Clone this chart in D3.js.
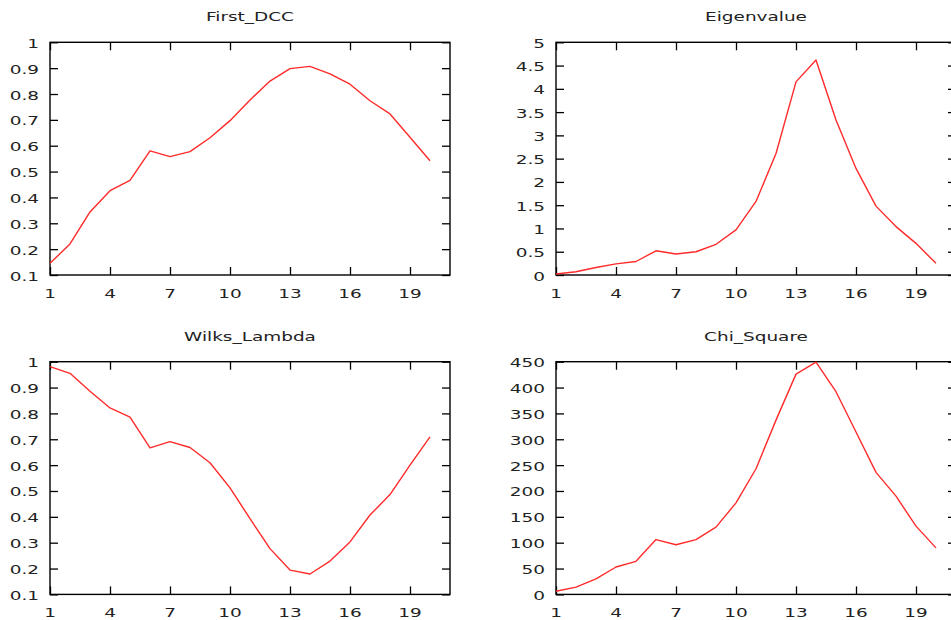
<!DOCTYPE html>
<html>
<head>
<meta charset="utf-8">
<script src="https://cdn.jsdelivr.net/npm/d3@7"></script>
<style>
  html, body { margin: 0; padding: 0; background: #fff; }
  svg { display: block; }
  text { font-family: "DejaVu Sans", Verdana, sans-serif; font-size: 13px; fill: #222; }
</style>
</head>
<body>
<svg id="chart" width="951" height="620"></svg>
<script>
// ---- data ----
const xValues = [1, 2, 3, 4, 5, 6, 7, 8, 9, 10, 11, 12, 13, 14, 15, 16, 17, 18, 19, 20];
const xTicks = [1, 4, 7, 10, 13, 16, 19];

const firstDCC = [0.145, 0.22, 0.344, 0.426, 0.466, 0.58, 0.558, 0.577, 0.631, 0.697,
                  0.777, 0.85, 0.898, 0.907, 0.878, 0.838, 0.774, 0.723, 0.633, 0.542];
const eigenvalue = [0.02, 0.07, 0.16, 0.24, 0.29, 0.52, 0.45, 0.50, 0.66, 0.97,
                    1.58, 2.61, 4.15, 4.62, 3.33, 2.29, 1.48, 1.04, 0.68, 0.25];
const wilksLambda = [0.981, 0.955, 0.886, 0.821, 0.786, 0.667, 0.691, 0.668, 0.609, 0.512,
                     0.393, 0.277, 0.194, 0.179, 0.229, 0.303, 0.407, 0.486, 0.60, 0.709];
const chiSquare = [6, 14, 30, 53, 64, 106, 96, 106, 130, 177,
                   243, 337, 426, 449, 392, 314, 236, 190, 132, 90];

const yTicksDCC = [0.1, 0.2, 0.3, 0.4, 0.5, 0.6, 0.7, 0.8, 0.9, 1];
const yTicksEigen = [0, 0.5, 1, 1.5, 2, 2.5, 3, 3.5, 4, 4.5, 5];
const yTicksWilks = [0.1, 0.2, 0.3, 0.4, 0.5, 0.6, 0.7, 0.8, 0.9, 1];
const yTicksChi = [0, 50, 100, 150, 200, 250, 300, 350, 400, 450];

const titles = ["First_DCC", "Eigenvalue", "Wilks_Lambda", "Chi_Square"];

// ---- layout ----
const panels = [
  { title: titles[0], values: firstDCC,    yTicks: yTicksDCC,   left: 50,  top: 42.3 },
  { title: titles[1], values: eigenvalue,  yTicks: yTicksEigen, left: 556, top: 42.3 },
  { title: titles[2], values: wilksLambda, yTicks: yTicksWilks, left: 50,  top: 361.7 },
  { title: titles[3], values: chiSquare,   yTicks: yTicksChi,   left: 556, top: 361.7 }
];
const plotW = 400, plotH = 232.7, tickLen = 8, sx = 1.42;

const svg = d3.select("#chart");

function stretchedText(g, x, y, str, anchor) {
  g.append("g")
    .attr("transform", `translate(${x},${y}) scale(${sx},1)`)
    .append("text")
    .attr("text-anchor", anchor)
    .text(str);
}

panels.forEach(p => {
  const g = svg.append("g");
  const yMin = d3.min(p.yTicks), yMax = d3.max(p.yTicks);
  const x = d3.scaleLinear().domain([1, 21]).range([p.left, p.left + plotW]);
  const y = d3.scaleLinear().domain([yMin, yMax]).range([p.top + plotH, p.top]);

  // ticks (inward) on all four sides
  g.append("g").attr("transform", `translate(0,${p.top + plotH})`)
    .call(d3.axisBottom(x).tickValues(xTicks).tickSize(-tickLen).tickFormat(""))
    .call(a => a.select(".domain").remove());
  g.append("g").attr("transform", `translate(0,${p.top})`)
    .call(d3.axisTop(x).tickValues(xTicks).tickSize(-tickLen).tickFormat(""))
    .call(a => a.select(".domain").remove());
  g.append("g").attr("transform", `translate(${p.left},0)`)
    .call(d3.axisLeft(y).tickValues(p.yTicks).tickSize(-tickLen).tickFormat(""))
    .call(a => a.select(".domain").remove());
  g.append("g").attr("transform", `translate(${p.left + plotW},0)`)
    .call(d3.axisRight(y).tickValues(p.yTicks).tickSize(-tickLen).tickFormat(""))
    .call(a => a.select(".domain").remove());
  g.selectAll(".tick line").attr("stroke", "#000").attr("stroke-width", 1.3);

  // frame
  g.append("rect")
    .attr("x", p.left).attr("y", p.top)
    .attr("width", plotW).attr("height", plotH)
    .attr("fill", "none").attr("stroke", "#000").attr("stroke-width", 1.4);

  // tick labels
  p.yTicks.forEach(v => {
    stretchedText(g, p.left - 11, y(v) + 5.5, String(+v.toFixed(2)), "end");
  });
  xTicks.forEach(v => {
    stretchedText(g, x(v), p.top + plotH + 22.5, String(v), "middle");
  });

  // title
  stretchedText(g, p.left + plotW / 2, p.top - 21, p.title, "middle");

  // line
  const line = d3.line().x((d, i) => x(xValues[i])).y(d => y(d));
  g.append("path")
    .datum(p.values)
    .attr("d", line)
    .attr("fill", "none")
    .attr("stroke", "#ff2a2a")
    .attr("stroke-width", 1.4)
    .attr("stroke-linejoin", "round");
});
</script>
</body>
</html>
